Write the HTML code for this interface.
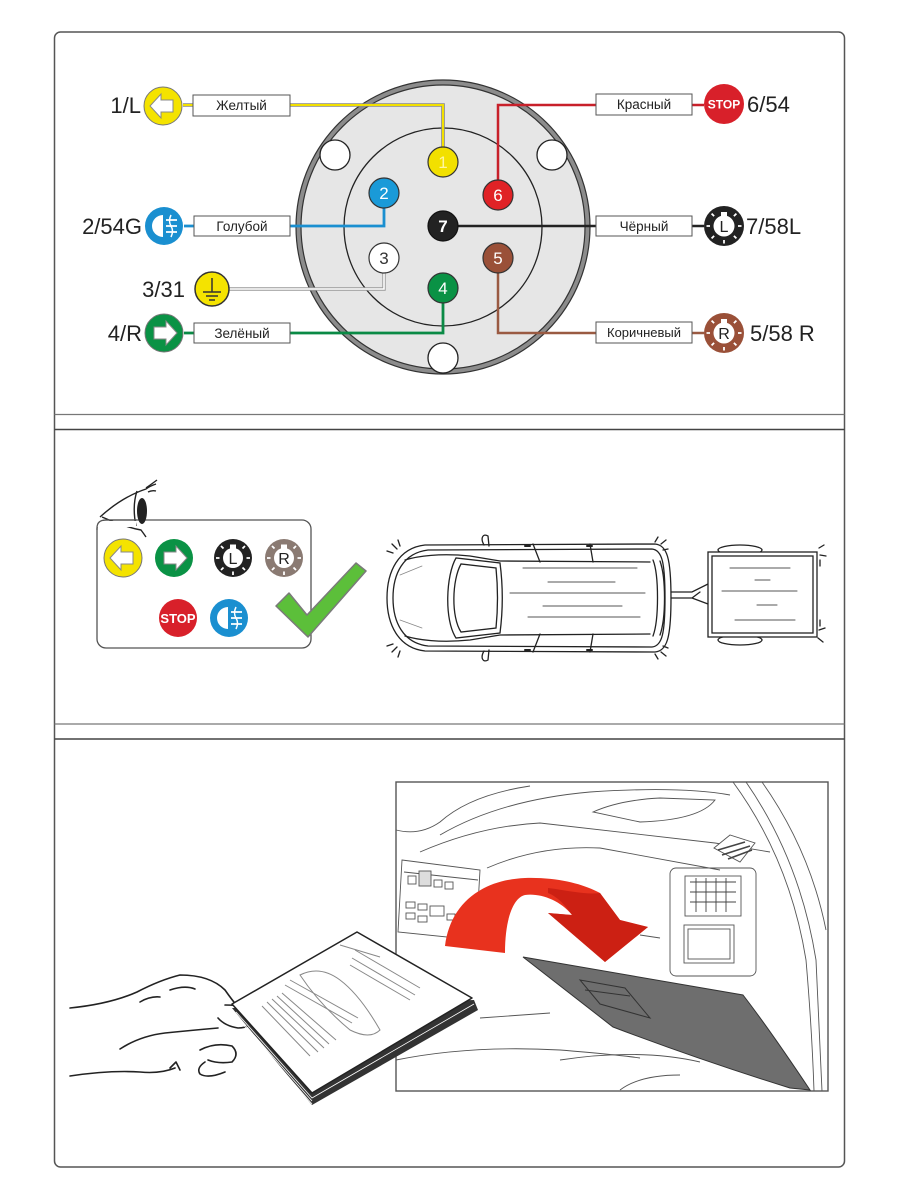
<!DOCTYPE html>
<html><head><meta charset="utf-8"><style>
html,body{margin:0;padding:0;background:#fff;}
svg{display:block;}
text{font-family:"Liberation Sans",Arial,sans-serif;}
</style></head><body>
<svg width="900" height="1200" viewBox="0 0 900 1200" xmlns="http://www.w3.org/2000/svg">
<rect x="0" y="0" width="900" height="1200" fill="#fff"/>
<!-- frame -->
<rect x="54.5" y="32" width="790" height="1135" rx="6" fill="#fff" stroke="#555" stroke-width="1.5"/>
<line x1="54.5" y1="414.5" x2="844.5" y2="414.5" stroke="#777" stroke-width="1.2"/>
<line x1="54.5" y1="429.5" x2="844.5" y2="429.5" stroke="#444" stroke-width="1.5"/>
<line x1="54.5" y1="724" x2="844.5" y2="724" stroke="#777" stroke-width="1.2"/>
<line x1="54.5" y1="739" x2="844.5" y2="739" stroke="#444" stroke-width="1.5"/>

<!-- ===== TOP PANEL: connector ===== -->
<circle cx="443" cy="227" r="147" fill="#8c8c8c" stroke="#333" stroke-width="1.2"/>
<circle cx="443" cy="227" r="142" fill="#e6e6e6" stroke="#333" stroke-width="1.2"/>
<circle cx="443" cy="227" r="99" fill="#e6e6e6" stroke="#222" stroke-width="1.3"/>
<circle cx="335" cy="155" r="15" fill="#fff" stroke="#222" stroke-width="1.3"/>
<circle cx="552" cy="155" r="15" fill="#fff" stroke="#222" stroke-width="1.3"/>
<circle cx="443" cy="358" r="15" fill="#fff" stroke="#222" stroke-width="1.3"/>

<!-- wires -->
<path d="M183,105 H193 M290,105 H443 V147" fill="none" stroke="#888" stroke-width="3.6"/>
<path d="M183,105 H193 M290,105 H443 V147" fill="none" stroke="#f2e000" stroke-width="2"/>
<path d="M229,289 H384 V273" fill="none" stroke="#999" stroke-width="3.4"/>
<path d="M229,289 H384 V273" fill="none" stroke="#fff" stroke-width="1.6"/>
<path d="M184,226 H194 M290,226 H384 V208" fill="none" stroke="#1a8fd0" stroke-width="2.8"/>
<path d="M184,333 H194 M290,333 H443 V303" fill="none" stroke="#0a8a45" stroke-width="2.8"/>
<path d="M498,180 V105 H596 M692,105 H704" fill="none" stroke="#c8202a" stroke-width="2.5"/>
<path d="M458,226 H596 M692,226 H704" fill="none" stroke="#222" stroke-width="2.5"/>
<path d="M498,273 V333 H596 M692,333 H704" fill="none" stroke="#9a5a42" stroke-width="2.5"/>

<!-- pins -->
<g font-size="17" text-anchor="middle">
<circle cx="443" cy="162" r="15" fill="#f2e000" stroke="#333" stroke-width="1.2"/>
<text x="443" y="168" fill="#fff6a0">1</text>
<circle cx="384" cy="193" r="15" fill="#1a9ad8" stroke="#333" stroke-width="1.2"/>
<text x="384" y="199" fill="#fff">2</text>
<circle cx="498" cy="195" r="15" fill="#e02226" stroke="#333" stroke-width="1.2"/>
<text x="498" y="201" fill="#fff">6</text>
<circle cx="443" cy="226" r="15" fill="#222" stroke="#111" stroke-width="1.2"/>
<text x="443" y="232" fill="#fff" font-weight="bold">7</text>
<circle cx="384" cy="258" r="15" fill="#fff" stroke="#333" stroke-width="1.2"/>
<text x="384" y="264" fill="#333">3</text>
<circle cx="498" cy="258" r="15" fill="#9a5038" stroke="#333" stroke-width="1.2"/>
<text x="498" y="264" fill="#fff">5</text>
<circle cx="443" cy="288" r="15" fill="#0a9245" stroke="#333" stroke-width="1.2"/>
<text x="443" y="294" fill="#fff">4</text>
</g>

<!-- label boxes -->
<g font-size="13.5" text-anchor="middle" fill="#222">
<rect x="193" y="95" width="97" height="21" fill="#fff" stroke="#555" stroke-width="1"/>
<text x="241.5" y="110">Желтый</text>
<rect x="194" y="216" width="96" height="20" fill="#fff" stroke="#555" stroke-width="1"/>
<text x="242" y="231">Голубой</text>
<rect x="194" y="323" width="96" height="20" fill="#fff" stroke="#555" stroke-width="1"/>
<text x="242" y="338">Зелёный</text>
<rect x="596" y="94" width="96" height="21" fill="#fff" stroke="#555" stroke-width="1"/>
<text x="644" y="109">Красный</text>
<rect x="596" y="216" width="96" height="20" fill="#fff" stroke="#555" stroke-width="1"/>
<text x="644" y="231">Чёрный</text>
<rect x="596" y="322" width="96" height="21" fill="#fff" stroke="#555" stroke-width="1"/>
<text x="644" y="337" font-size="13">Коричневый</text>
</g>

<!-- left icons -->
<g transform="translate(163,106)">
<circle r="19" fill="#f4e300" stroke="#777" stroke-width="1"/>
<path d="M-13,0 L-2,-12 L-2,-6 L10,-6 L10,6 L-2,6 L-2,12 Z" fill="#fff" stroke="#888" stroke-width="1"/>
</g>
<g transform="translate(164,226)">
<circle r="19" fill="#1a8fd0"/>
<path d="M-1,-11 A11,11 0 0 0 -1,11 Z" fill="#fff"/>
<path d="M2,-6 H13 M2,0 H13 M2,6 H13" stroke="#fff" stroke-width="1.8"/>
<path d="M7,-11 Q4,-5 7,0 Q10,5 7,11" fill="none" stroke="#fff" stroke-width="1.5"/>
</g>
<g transform="translate(212,289)">
<circle r="17" fill="#f4e300" stroke="#333" stroke-width="1.5"/>
<path d="M0,-11 V3 M-9,3 H9 M-6,7 H6 M-3,11 H3" stroke="#333" stroke-width="1.5"/>
</g>
<g transform="translate(164,333)">
<circle r="19" fill="#0a9245" stroke="#777" stroke-width="1"/>
<path d="M13,0 L2,-12 L2,-6 L-10,-6 L-10,6 L2,6 L2,12 Z" fill="#fff" stroke="#888" stroke-width="1"/>
</g>

<!-- right icons -->
<g transform="translate(724,104)">
<circle r="20" fill="#d8202a"/>
<text x="0" y="4.5" font-size="12" font-weight="bold" fill="#fff" text-anchor="middle">STOP</text>
</g>
<g transform="translate(724,226)">
<circle r="20" fill="#222"/>
<circle r="10.5" fill="#fff"/>
<rect x="-3" y="-14" width="6" height="5" fill="#fff"/>
<path d="M14,0 H17.5 M9.9,9.9 L12.4,12.4 M0,14 V17.5 M-9.9,9.9 L-12.4,12.4 M-14,0 H-17.5 M-9.9,-9.9 L-12.4,-12.4 M9.9,-9.9 L12.4,-12.4" stroke="#fff" stroke-width="1.8"/>
<text x="0" y="6" font-size="16" fill="#222" text-anchor="middle">L</text>
</g>
<g transform="translate(724,333)">
<circle r="20" fill="#9a5038"/>
<circle r="10.5" fill="#fff"/>
<rect x="-3" y="-14" width="6" height="5" fill="#fff"/>
<path d="M14,0 H17.5 M9.9,9.9 L12.4,12.4 M0,14 V17.5 M-9.9,9.9 L-12.4,12.4 M-14,0 H-17.5 M-9.9,-9.9 L-12.4,-12.4 M9.9,-9.9 L12.4,-12.4" stroke="#fff" stroke-width="1.8"/>
<text x="0" y="6" font-size="16" fill="#222" text-anchor="middle">R</text>
</g>

<!-- pin labels -->
<g font-size="22" fill="#222">
<text x="141" y="113" text-anchor="end">1/L</text>
<text x="142" y="234" text-anchor="end">2/54G</text>
<text x="185" y="297" text-anchor="end">3/31</text>
<text x="142" y="341" text-anchor="end">4/R</text>
<text x="747" y="112">6/54</text>
<text x="746" y="234">7/58L</text>
<text x="750" y="341">5/58 R</text>
</g>

<!-- ===== MIDDLE PANEL ===== -->
<rect x="97" y="520" width="214" height="128" rx="9" fill="#fff" stroke="#555" stroke-width="1.3"/>
<!-- eye -->
<g fill="none" stroke="#222" stroke-width="1.4">
<path d="M100,517 Q122,497 146,489 Q150,486 156,484"/>
<path d="M102,517 Q125,527 141,530 Q144,534 146,537"/>
<path d="M137,491 Q132,506 136,526"/>
<path d="M146,488 Q153,483 157,480 M148,492 Q152,490 156,491"/>
</g>
<ellipse cx="142" cy="511" rx="5" ry="13" fill="#222"/>
<rect x="96" y="521" width="40" height="6" fill="#fff"/>
<path d="M97,530 V528 Q97,520 106,520 H137" fill="none" stroke="#555" stroke-width="1.3"/>

<g transform="translate(123,558)">
<circle r="19" fill="#f4e300" stroke="#777" stroke-width="1"/>
<path d="M-13,0 L-2,-12 L-2,-6 L10,-6 L10,6 L-2,6 L-2,12 Z" fill="#fff" stroke="#888" stroke-width="1"/>
</g>
<g transform="translate(174,558)">
<circle r="19" fill="#0a9245"/>
<path d="M13,0 L2,-12 L2,-6 L-10,-6 L-10,6 L2,6 L2,12 Z" fill="#fff" stroke="#888" stroke-width="1"/>
</g>
<g transform="translate(233,558)">
<circle r="19" fill="#222"/>
<circle r="10" fill="#fff"/>
<rect x="-3" y="-13.5" width="6" height="5" fill="#fff"/>
<path d="M13.5,0 H17 M9.5,9.5 L12,12 M0,13.5 V17 M-9.5,9.5 L-12,12 M-13.5,0 H-17 M-9.5,-9.5 L-12,-12 M9.5,-9.5 L12,-12" stroke="#fff" stroke-width="1.8"/>
<text x="0" y="6" font-size="16" fill="#222" text-anchor="middle">L</text>
</g>
<g transform="translate(284,558)">
<circle r="19" fill="#8a7a72"/>
<circle r="10" fill="#fff"/>
<rect x="-3" y="-13.5" width="6" height="5" fill="#fff"/>
<path d="M13.5,0 H17 M9.5,9.5 L12,12 M0,13.5 V17 M-9.5,9.5 L-12,12 M-13.5,0 H-17 M-9.5,-9.5 L-12,-12 M9.5,-9.5 L12,-12" stroke="#fff" stroke-width="1.8"/>
<text x="0" y="6" font-size="16" fill="#222" text-anchor="middle">R</text>
</g>
<g transform="translate(178,618)">
<circle r="19" fill="#d8202a"/>
<text x="0" y="5" font-size="13" font-weight="bold" fill="#fff" text-anchor="middle">STOP</text>
</g>
<g transform="translate(229,618)">
<circle r="19" fill="#1a8fd0"/>
<path d="M-1,-11 A11,11 0 0 0 -1,11 Z" fill="#fff"/>
<path d="M2,-6 H13 M2,0 H13 M2,6 H13" stroke="#fff" stroke-width="1.8"/>
<path d="M7,-11 Q4,-5 7,0 Q10,5 7,11" fill="none" stroke="#fff" stroke-width="1.5"/>
</g>
<!-- checkmark -->
<path d="M276,606 L289,593 L307,615 L356,563 L366,571 L308,637 Z" fill="#5cbf3a" stroke="#7a7a7a" stroke-width="1.5" stroke-linejoin="round"/>

<!-- car -->
<g fill="none" stroke="#222" stroke-width="1.3" stroke-linecap="round">
<path d="M425,545 C398,548 387,572 387,598 C387,624 398,648 425,651 L655,652 C667,651 671,638 671,598 C671,558 667,545 655,544 Z" fill="#fff"/>
<path d="M428,550 C403,553 393,574 393,598 C393,622 403,643 428,646 L652,647 C662,646 665,634 665,598 C665,562 662,550 652,549 Z"/>
<path d="M405,560 C418,556 440,553 470,556 L500,561 L650,562"/>
<path d="M405,636 C418,640 440,643 470,640 L500,635 L650,634"/>
<path d="M456,558 C446,575 444,620 456,638 L500,633 C503,610 503,586 500,563 Z" fill="#fff"/>
<path d="M461,564 C452,580 451,617 461,632 L496,628 C498,608 498,588 496,568 Z"/>
<path d="M653,560 C659,575 659,620 653,636 M660,561 C666,578 666,618 660,635"/>
<path d="M533,544 L540,562 M590,544 L593,562 M533,652 L540,634 M590,652 L593,634"/>
<path d="M525,546 H530 M587,546 H592 M525,650 H530 M587,650 H592" stroke-width="2"/>
<path d="M484,545 C480,538 483,533 488,536 L489,546 M484,651 C480,658 483,663 488,660 L489,650"/>
<path d="M400,575 L422,566 M400,620 L422,628" stroke="#888" stroke-width="0.8"/>
<path d="M523,568 H637 M548,582 H615 M510,593 H645 M543,606 H622 M528,617 H640" stroke="#555" stroke-width="1.1"/>
<!-- flashes -->
<path d="M392,544 L397,549 M398,540 L400,546 M387,551 L393,553 M392,652 L397,647 M398,657 L400,651 M387,646 L393,644 M655,542 L658,537 M661,544 L666,540 M663,550 L668,549 M655,654 L658,659 M661,652 L666,656 M663,646 L668,648" stroke-width="1.3"/>
<!-- hitch -->
<path d="M671,592 H692 L708,584 M692,598 L708,604 M671,598 H692 L700,592"/>
<!-- trailer -->
<ellipse cx="740" cy="550" rx="22" ry="5" fill="#fff"/>
<ellipse cx="740" cy="640" rx="22" ry="5" fill="#fff"/>
<rect x="708" y="552" width="109" height="85" fill="#fff"/>
<rect x="712" y="556" width="101" height="77"/>
<path d="M730,568 H790 M755,580 H770 M722,591 H797 M757,605 H777 M735,620 H795" stroke="#555" stroke-width="1.1"/>
<path d="M819,548 L824,545 M820,555 L826,556 M819,630 L825,628 M818,638 L823,642 M820,560 V566 M820,620 V626" stroke-width="1.3"/>
</g>

<!-- ===== BOTTOM PANEL ===== -->
<rect x="396" y="782" width="432" height="309" fill="#fff" stroke="#555" stroke-width="1.4"/>
<g fill="none" stroke="#555" stroke-width="0.9">
<path d="M396,830 Q420,836 440,822 Q470,795 530,786"/>
<path d="M440,835 Q500,800 590,792 Q680,786 730,795"/>
<path d="M593,812 Q620,800 660,798 L715,800 Q700,820 640,822 Z"/>
<path d="M420,852 Q480,826 540,823 L715,843 L770,852"/>
<path d="M487,868 Q540,845 600,848 L720,870"/>
<path d="M733,782 Q790,860 806,960 Q812,1030 814,1091"/>
<path d="M746,782 Q800,860 816,960 L822,1091"/>
<path d="M762,782 Q810,850 826,930"/>
<path d="M402,860 L480,870 L476,940 L398,932 Z"/>
<path d="M404,872 L478,880"/>
<rect x="408" y="876" width="8" height="8"/><rect x="419" y="871" width="12" height="15" fill="#ddd"/>
<rect x="434" y="880" width="8" height="7"/><rect x="445" y="882" width="8" height="7"/>
<rect x="406" y="902" width="9" height="6"/><rect x="418" y="904" width="9" height="6"/><rect x="430" y="906" width="14" height="10"/>
<rect x="406" y="913" width="9" height="6"/><rect x="418" y="916" width="9" height="6"/><rect x="447" y="914" width="8" height="6"/>
<rect x="670" y="868" width="86" height="108" rx="6"/>
<rect x="685" y="876" width="56" height="40"/>
<path d="M690,882 H736 M690,892 H736 M690,902 H736 M696,878 V912 M706,878 V912 M716,878 V912 M726,878 V912" stroke="#444"/>
<rect x="684" y="925" width="50" height="38"/>
<rect x="688" y="929" width="42" height="30"/>
<path d="M714,848 L730,835 L755,843 L740,862 Z" fill="#fff"/>
<path d="M718,850 L745,842 M722,855 L750,846 M728,859 L752,850" stroke="#444" stroke-width="1.6"/>
<path d="M480,1018 L550,1013 M396,1060 Q470,1045 560,1050 Q620,1055 640,1058"/>
<path d="M560,1060 Q640,1048 700,1062 M620,1090 Q640,1075 680,1075"/>
<path d="M488,920 L500,918 M640,935 L660,938"/>
</g>
<!-- red arrow -->
<path d="M445,946 C450,905 480,880 525,878 C560,877 585,885 600,893 L620,920 L648,927 L605,962 L548,913 L572,915 C560,900 540,893 525,895 C515,897 505,915 505,953 Z" fill="#e8321e"/>
<path d="M548,888 C565,890 585,895 600,893 L620,920 L648,927 L605,962 L548,913 L572,915 C565,905 558,897 548,893 Z" fill="#c41c10" opacity="0.8"/>
<!-- glove box lid -->
<path d="M523,957 L743,995 Q770,1030 810,1090 L790,1088 Q700,1060 613,1027 Z" fill="#6e6e6e" stroke="#333" stroke-width="1"/>
<path d="M580,980 L625,988 L650,1018 L600,1004 Z" fill="none" stroke="#333" stroke-width="1"/>
<path d="M585,990 L630,996" stroke="#333" stroke-width="1"/>

<!-- hand & booklet -->
<g fill="none" stroke="#222" stroke-width="1.6" stroke-linecap="round" stroke-linejoin="round">
<path d="M70,1008 Q110,1004 137,992 Q160,980 180,975 Q210,975 225,990 Q232,1000 238,1007"/>
<path d="M140,1002 Q150,996 160,997 M170,990 Q185,985 195,989"/>
<path d="M225,1005 Q250,1005 255,1015 Q253,1028 238,1028 Q225,1026 218,1018"/>
<path d="M120,1049 Q140,1036 165,1033 Q195,1030 218,1028"/>
<path d="M70,1076 Q110,1070 140,1072 Q160,1074 175,1068"/>
<path d="M200,1050 Q215,1042 232,1046 Q240,1054 232,1062 Q218,1064 208,1060"/>
<path d="M205,1062 Q196,1068 200,1074 Q208,1079 225,1072"/>
<path d="M170,1068 L176,1062 L180,1070"/>
</g>
<g stroke-linejoin="round">
<path d="M232,1008 L312,1105 L478,1010 L474,1000 Z" fill="#333"/>
<path d="M232,1004 L357,932 L472,998 L312,1093 Z" fill="#fff" stroke="#222" stroke-width="1.5"/>
<path d="M236,1012 L312,1098 L474,1004 M238,1017 L312,1101 M240,1021 L312,1104" fill="none" stroke="#fff" stroke-width="0.8"/>
</g>
<g stroke="#888" stroke-width="1" fill="none">
<path d="M262,1006 L310,1056 M267,1002 L318,1052 M272,999 L324,1048 M277,996 L329,1044 M282,993 L336,1040"/>
<path d="M285,985 L352,1023 M290,980 L358,1018"/>
<path d="M300,975 Q320,965 340,980 Q360,995 380,1030 Q370,1040 350,1030 Q320,1005 300,975 Z"/>
<path d="M355,950 L420,988 M352,958 L415,995 M350,965 L410,1000"/>
<path d="M340,945 L380,957"/>
</g>
</svg>
</body></html>
